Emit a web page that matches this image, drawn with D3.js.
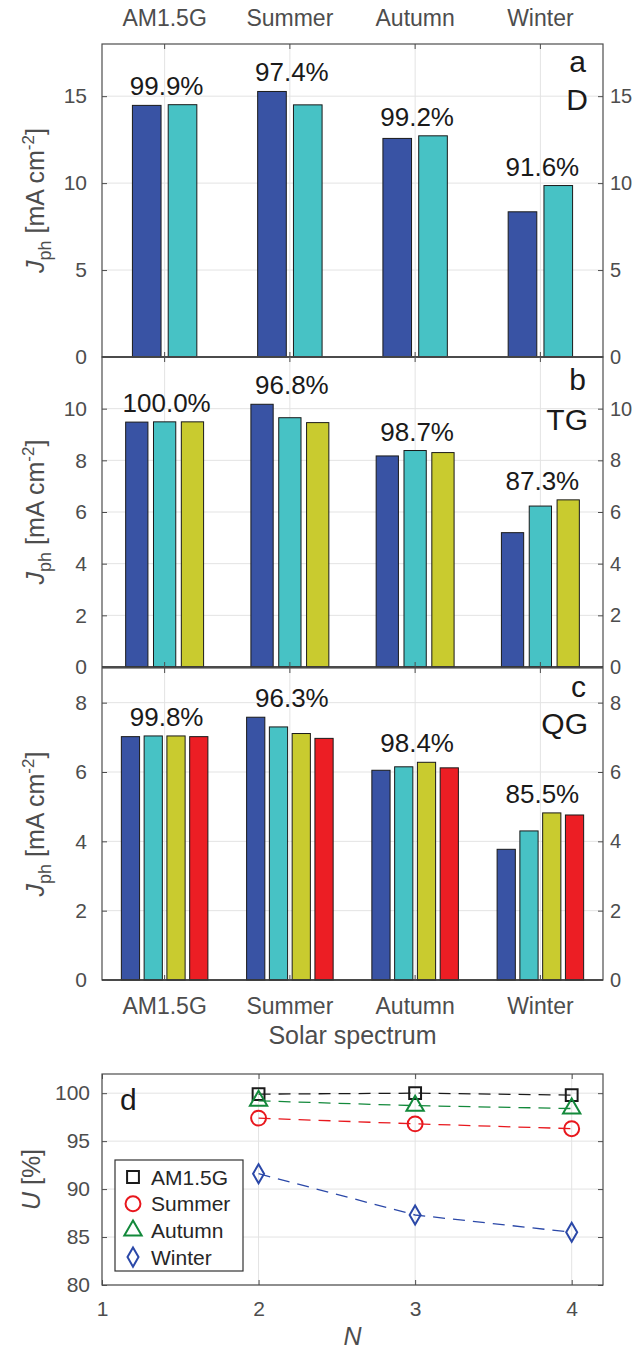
<!DOCTYPE html>
<html>
<head>
<meta charset="utf-8">
<script src="https://cdn.jsdelivr.net/npm/d3@7"></script>
<style>
  body { margin: 0; background: #fff; }
  svg { display: block; font-family: "Liberation Sans", Arial, sans-serif; }
</style>
</head>
<body>
<svg id="chart" width="636" height="1351"></svg>
<script>
// ---- data ----
const categories = ["AM1.5G", "Summer", "Autumn", "Winter"];

// photocurrent per category, one value per sub-cell
const jphD  = [[14.47, 14.51], [15.27, 14.50], [12.57, 12.72], [8.35, 9.86]];
const jphTG = [[9.48, 9.49, 9.49], [10.17, 9.65, 9.46], [8.17, 8.38, 8.30], [5.20, 6.23, 6.47]];
const jphQG = [[7.02, 7.04, 7.04, 7.02], [7.58, 7.30, 7.11, 6.97], [6.05, 6.15, 6.28, 6.12], [3.77, 4.30, 4.82, 4.76]];

// utilization U [%] against N = 2, 3, 4
const nValues = [2, 3, 4];
const uAM     = [99.9, 100.0, 99.8];
const uSummer = [97.4, 96.8, 96.3];
const uAutumn = [99.2, 98.7, 98.4];
const uWinter = [91.6, 87.3, 85.5];

const ticksD  = [0, 5, 10, 15];
const ticksTG = [0, 2, 4, 6, 8, 10];
const ticksQG = [0, 2, 4, 6, 8];
const ticksU  = [80, 85, 90, 95, 100];
const ticksN  = [1, 2, 3, 4];

const barColors = ["#3953a4", "#47c2c5", "#c9cb2f", "#ec1e24"];
const uSeries = [
  { name: "AM1.5G", values: uAM,     color: "#1a1a1a", symbol: d3.symbolSquare,   size: 140 },
  { name: "Summer", values: uSummer, color: "#e8171d", symbol: d3.symbolCircle,   size: 175 },
  { name: "Autumn", values: uAutumn, color: "#13893b", symbol: d3.symbolTriangle, size: 130 },
  { name: "Winter", values: uWinter, color: "#2b48a8", symbol: d3.symbolDiamond,  size: 105 }
];

// ---- layout ----
const left = 102, right = 603;
const gridColor = "#e3e3e3", axisColor = "#4d4d4d", tickText = "#4d4d4d", darkText = "#1a1a1a";

const svg = d3.select("#chart");

const xCat = d3.scaleBand().domain(categories).range([left, right]).padding(0);

const panels = [
  { data: jphD,  ticks: ticksD,  max: 18, top: 44,  bottom: 357, letter: "a", name: "D",  l1: 72,  l2: 110, topLabels: true },
  { data: jphTG, ticks: ticksTG, max: 12, top: 357, bottom: 667, letter: "b", name: "TG", l1: 390, l2: 430 },
  { data: jphQG, ticks: ticksQG, max: 9,  top: 668, bottom: 980, letter: "c", name: "QG", l1: 697, l2: 734, bottomLabels: true }
];
const uLists = [uAM, uSummer, uAutumn, uWinter];

panels.forEach((p, pi) => {
  const y = d3.scaleLinear().domain([0, p.max]).range([p.bottom, p.top]);
  const g = svg.append("g");

  // grid
  g.selectAll(".hgrid").data(p.ticks).enter().append("line")
    .attr("x1", left).attr("x2", right)
    .attr("y1", d => y(d)).attr("y2", d => y(d))
    .attr("stroke", gridColor);
  g.selectAll(".vgrid").data(categories).enter().append("line")
    .attr("x1", d => xCat(d) + xCat.bandwidth() / 2).attr("x2", d => xCat(d) + xCat.bandwidth() / 2)
    .attr("y1", p.top).attr("y2", p.bottom)
    .attr("stroke", gridColor);

  // bars
  const n = p.data[0].length;
  const gw = xCat.bandwidth() * Math.min(0.8, n / (n + 1.5));
  const xSub = d3.scaleBand().domain(d3.range(n)).range([-gw / 2, gw / 2])
    .paddingInner(0.2).paddingOuter(0.1);

  categories.forEach((c, ci) => {
    const cx = xCat(c) + xCat.bandwidth() / 2;
    g.selectAll(".bar-" + ci).data(p.data[ci]).enter().append("rect")
      .attr("x", (d, i) => cx + xSub(i))
      .attr("y", d => y(d))
      .attr("width", xSub.bandwidth())
      .attr("height", d => y(0) - y(d))
      .attr("fill", (d, i) => barColors[i])
      .attr("stroke", "#1a1a1a").attr("stroke-width", 1);

    g.append("text")
      .attr("x", cx + 2)
      .attr("y", y(d3.max(p.data[ci])) - 10)
      .attr("text-anchor", "middle")
      .attr("font-size", 26).attr("fill", darkText)
      .text(uLists[ci][pi].toFixed(1) + "%");
  });

  // box + baseline
  g.append("rect").attr("x", left).attr("y", p.top)
    .attr("width", right - left).attr("height", p.bottom - p.top)
    .attr("fill", "none").attr("stroke", axisColor).attr("stroke-width", 1.2);
  g.append("line").attr("x1", left).attr("x2", right)
    .attr("y1", y(0)).attr("y2", y(0))
    .attr("stroke", "#333").attr("stroke-width", 1.5);

  // axes, ticks pointing inward
  const yl = g.append("g").attr("transform", `translate(${left},0)`)
    .call(d3.axisLeft(y).tickValues(p.ticks).tickSize(-5).tickPadding(15));
  const yr = g.append("g").attr("transform", `translate(${right},0)`)
    .call(d3.axisRight(y).tickValues(p.ticks).tickSize(-5).tickPadding(7));
  const xb = g.append("g").attr("transform", `translate(0,${p.bottom})`)
    .call(d3.axisBottom(xCat).tickSize(-5).tickPadding(18));
  const xt = g.append("g").attr("transform", `translate(0,${p.top})`)
    .call(d3.axisTop(xCat).tickSize(-5).tickPadding(18));
  [yl, yr, xb, xt].forEach(a => {
    a.select(".domain").remove();
    a.selectAll(".tick line").attr("stroke", axisColor);
    a.selectAll("text").attr("font-size", 21).attr("fill", tickText)
      .attr("font-family", "Liberation Sans, Arial, sans-serif");
  });
  yr.selectAll("text").attr("font-size", 20);
  if (!p.bottomLabels) xb.selectAll("text").remove();
  if (!p.topLabels) xt.selectAll("text").remove();
  if (p.bottomLabels) xb.selectAll("text").attr("font-size", 23);
  if (p.topLabels) xt.selectAll("text").attr("font-size", 23);

  // panel letters
  g.append("text").attr("x", 586).attr("y", p.l1).attr("text-anchor", "end")
    .attr("font-size", 30).attr("fill", darkText).text(p.letter);
  g.append("text").attr("x", 588).attr("y", p.l2).attr("text-anchor", "end")
    .attr("font-size", 30).attr("fill", darkText).text(p.name);

  // y label
  const lab = g.append("text")
    .attr("transform", `translate(44,${(p.top + p.bottom) / 2}) rotate(-90)`)
    .attr("text-anchor", "middle").attr("font-size", 25).attr("fill", tickText);
  lab.append("tspan").attr("font-style", "italic").text("J");
  lab.append("tspan").attr("font-size", 18).attr("dy", 7).text("ph");
  lab.append("tspan").attr("dy", -7).text(" [mA cm");
  lab.append("tspan").attr("font-size", 17).attr("dy", -10).text("-2");
  lab.append("tspan").attr("dy", 10).text("]");
});

svg.append("text").attr("x", (left + right) / 2).attr("y", 1044)
  .attr("text-anchor", "middle").attr("font-size", 25).attr("fill", tickText)
  .text("Solar spectrum");

// ---- panel d ----
const dTop = 1074, dBottom = 1285;
const xN = d3.scaleLinear().domain([1, 4.2]).range([left, right]);
const yU = d3.scaleLinear().domain([80, 102]).range([dBottom, dTop]);
const gd = svg.append("g");

gd.selectAll(".hg").data(ticksU).enter().append("line")
  .attr("x1", left).attr("x2", right).attr("y1", d => yU(d)).attr("y2", d => yU(d))
  .attr("stroke", gridColor);
gd.selectAll(".vg").data(ticksN).enter().append("line")
  .attr("x1", d => xN(d)).attr("x2", d => xN(d)).attr("y1", dTop).attr("y2", dBottom)
  .attr("stroke", gridColor);

gd.append("rect").attr("x", left).attr("y", dTop)
  .attr("width", right - left).attr("height", dBottom - dTop)
  .attr("fill", "none").attr("stroke", axisColor).attr("stroke-width", 1.2);

const line = d3.line().x((d, i) => xN(nValues[i])).y(d => yU(d));
uSeries.forEach(s => {
  gd.append("path").datum(s.values).attr("d", line)
    .attr("fill", "none").attr("stroke", s.color).attr("stroke-width", 1.3)
    .attr("stroke-dasharray", "12,8");
  gd.selectAll(null).data(s.values).enter().append("path")
    .attr("transform", (d, i) => `translate(${xN(nValues[i])},${yU(d)})`)
    .attr("d", d3.symbol().type(s.symbol).size(s.size))
    .attr("fill", "none").attr("stroke", s.color).attr("stroke-width", 2);
});

const dl = gd.append("g").attr("transform", `translate(${left},0)`)
  .call(d3.axisLeft(yU).tickValues(ticksU).tickSize(-5).tickPadding(12));
const dr = gd.append("g").attr("transform", `translate(${right},0)`)
  .call(d3.axisRight(yU).tickValues(ticksU).tickSize(-5).tickFormat(""));
const db = gd.append("g").attr("transform", `translate(0,${dBottom})`)
  .call(d3.axisBottom(xN).tickValues(ticksN).tickSize(-5).tickPadding(16).tickFormat(d3.format("d")));
const dt = gd.append("g").attr("transform", `translate(0,${dTop})`)
  .call(d3.axisTop(xN).tickValues(ticksN).tickSize(-5).tickFormat(""));
[dl, dr, db, dt].forEach(a => {
  a.select(".domain").remove();
  a.selectAll(".tick line").attr("stroke", axisColor);
  a.selectAll("text").attr("font-size", 21).attr("fill", tickText)
    .attr("font-family", "Liberation Sans, Arial, sans-serif");
});

gd.append("text").attr("x", 120).attr("y", 1110)
  .attr("font-size", 30).attr("fill", darkText).text("d");

const ul = gd.append("text")
  .attr("transform", `translate(40,${(dTop + dBottom) / 2}) rotate(-90)`)
  .attr("text-anchor", "middle").attr("font-size", 25).attr("fill", tickText);
ul.append("tspan").attr("font-style", "italic").text("U");
ul.append("tspan").text(" [%]");

gd.append("text").attr("x", (left + right) / 2).attr("y", 1345)
  .attr("text-anchor", "middle").attr("font-size", 25).attr("font-style", "italic")
  .attr("fill", tickText).text("N");

// legend
const lg = gd.append("g");
lg.append("rect").attr("x", 115).attr("y", 1160).attr("width", 128).attr("height", 111)
  .attr("fill", "#fff").attr("stroke", "#333").attr("stroke-width", 1.2);
uSeries.forEach((s, i) => {
  const yy = 1177 + i * 26.7;
  lg.append("path").attr("transform", `translate(133,${yy})`)
    .attr("d", d3.symbol().type(s.symbol).size(s.size))
    .attr("fill", "none").attr("stroke", s.color).attr("stroke-width", 2);
  lg.append("text").attr("x", 151).attr("y", yy + 7.5)
    .attr("font-size", 21).attr("fill", "#262626").text(s.name);
});
</script>
</body>
</html>
